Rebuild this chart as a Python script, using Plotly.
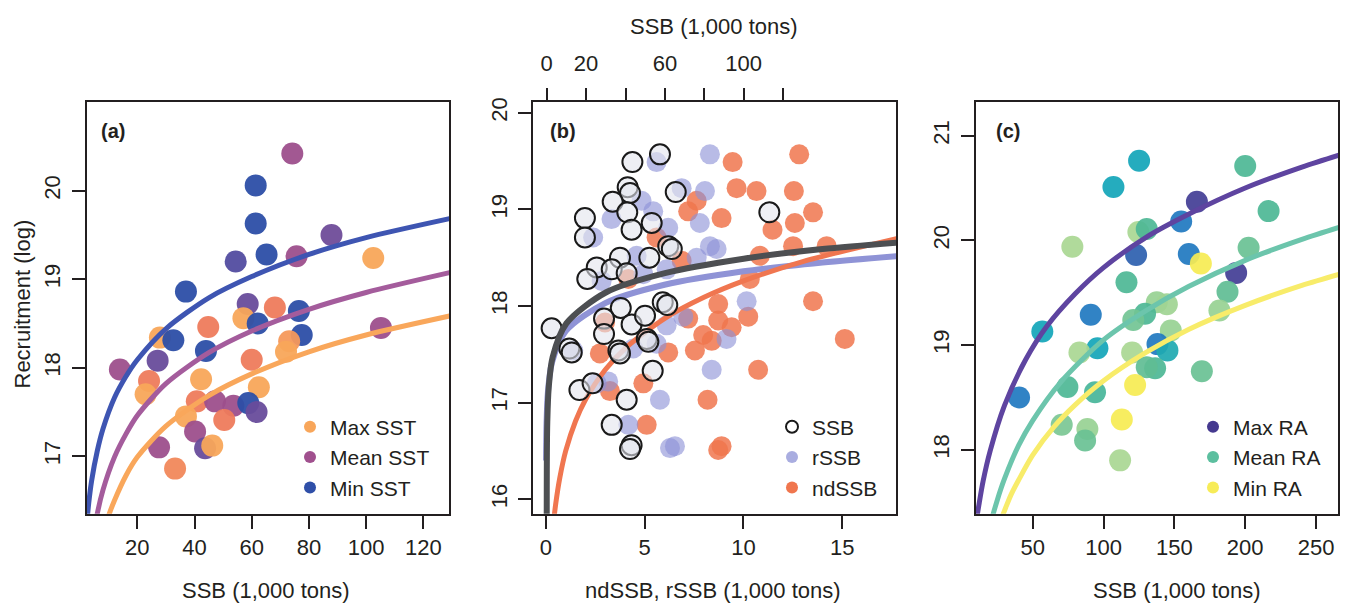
import plotly.graph_objects as go

FONT = "Liberation Sans, Arial, Helvetica, sans-serif"
TXT = "#231f20"
W, H = 1349, 604

# ---------------- (a) recruitment vs SSB, coloured by SST ----------------
ssb_a = [74.2, 61.4, 61.4, 87.9, 54.4, 65.2, 75.7, 102.5, 37.0, 58.6, 68.1,
         76.5, 77.5, 57.1, 62.1, 44.8, 73.1, 72.0, 105.2, 27.9, 32.6, 27.1,
         44.0, 60.0, 13.9, 24.1, 22.9, 42.3, 62.5, 40.8, 47.2, 53.6, 58.8,
         61.7, 37.0, 50.4, 40.2, 27.6, 43.7, 46.2, 33.2]
rec_a = [20.42, 20.06, 19.63, 19.50, 19.20, 19.28, 19.26, 19.24, 18.86, 18.72,
         18.68, 18.64, 18.37, 18.56, 18.50, 18.46, 18.30, 18.18, 18.45, 18.34,
         18.31, 18.08, 18.19, 18.09, 17.98, 17.85, 17.70, 17.87, 17.78, 17.62,
         17.62, 17.57, 17.60, 17.50, 17.45, 17.41, 17.28, 17.10, 17.09, 17.12,
         16.86]
# 0 = coldest ... 4 = warmest
sst_level_a = [2, 0, 0, 1.3, 0.8, 0, 2, 4, 0, 1.2, 3, 0, 0, 4, 0, 3, 3.7, 4,
               2, 4, 0, 1.2, 0, 3, 2, 3, 4, 4, 4, 3, 2, 2, 0, 1.2, 4, 3, 2,
               2, 1.2, 4, 3.3]

fit_min_sst_x = [2, 3, 4, 6, 8, 12, 16, 20, 30, 45, 60, 80, 100, 130]
fit_min_sst_y = [16.12, 16.47, 16.72, 17.06, 17.31, 17.66, 17.90, 18.09, 18.44,
                 18.79, 19.03, 19.28, 19.47, 19.69]
fit_mean_sst_x = [5, 6, 8, 12, 16, 20, 30, 45, 60, 80, 100, 130]
fit_mean_sst_y = [16.15, 16.35, 16.62, 16.99, 17.25, 17.46, 17.82, 18.17,
                  18.415, 18.66, 18.85, 19.08]
fit_max_sst_x = [9, 10, 12, 16, 20, 30, 45, 60, 80, 100, 130]
fit_max_sst_y = [16.20, 16.33, 16.50, 16.78, 16.99, 17.34, 17.685, 17.93,
                 18.18, 18.37, 18.59]

sst_names = ["Max SST", "Mean SST", "Min SST"]
sst_colors = ["#f8a65a", "#a0508e", "#2f4fa8"]
sst_line_colors = ["#f9a75b", "#a45c9c", "#3e55b2"]
sst_scale = [[0.0, "#2c4ea6"], [0.25, "#5b4b9f"], [0.5, "#9d4f8c"],
             [0.75, "#ee7b5c"], [1.0, "#f8a65a"]]

# ---------------- (b) recruitment vs SSB / rSSB / ndSSB ----------------
ssb_b = [57.5, 43.5, 41.1, 42.3, 65.5, 33.5, 40.9, 19.4, 53.3, 43.1, 113.0,
         19.4, 61.7, 63.5, 52.1, 37.2, 25.4, 33.0, 40.6, 20.6, 37.6, 29.1,
         43.1, 49.9, 58.9, 61.2, 2.5, 29.1, 50.8, 51.6, 11.5, 12.7, 36.4,
         37.2, 53.8, 16.6, 23.3, 40.6, 33.0, 43.1, 42.3]
rec_ssb_b = [19.57, 19.49, 19.23, 19.17, 19.18, 19.08, 18.97, 18.91, 18.86,
             18.79, 18.97, 18.71, 18.62, 18.59, 18.50, 18.50, 18.40, 18.38,
             18.34, 18.28, 17.98, 17.87, 17.81, 17.90, 18.04, 18.01, 17.77,
             17.71, 17.66, 17.63, 17.56, 17.52, 17.54, 17.51, 17.33, 17.13,
             17.20, 17.03, 16.77, 16.56, 16.52]

rssb_b = [8.30, 5.60, 6.87, 8.05, 4.84, 5.43, 3.32, 7.79, 6.19, 2.39, 8.30,
          8.64, 7.63, 4.59, 6.11, 2.82, 4.93, 10.16, 6.95, 6.11, 9.14, 5.60,
          4.42, 1.38, 8.39, 2.57, 3.15, 5.77, 4.17, 6.28, 6.53]
rec_rssb_b = [19.57, 19.49, 19.22, 19.19, 19.09, 18.98, 18.90, 18.86, 18.81,
              18.71, 18.62, 18.59, 18.50, 18.52, 18.38, 18.26, 18.33, 18.05,
              17.89, 17.80, 17.66, 17.61, 17.56, 17.54, 17.34, 17.20, 17.22,
              17.03, 16.77, 16.53, 16.55]

ndssb_b = [12.82, 9.45, 9.65, 10.66, 12.55, 7.63, 7.20, 8.89, 13.52, 12.60,
           11.47, 5.60, 12.51, 14.21, 10.83, 6.87, 10.32, 13.52, 8.72, 10.24,
           7.20, 8.72, 9.40, 7.96, 8.39, 15.13, 7.54, 6.19, 2.73, 10.74, 4.93,
           3.24, 8.18, 5.10, 8.89, 8.72, 4.17, 2.99]
rec_ndssb_b = [19.57, 19.49, 19.22, 19.19, 19.19, 19.09, 18.98, 18.91, 18.97,
               18.86, 18.79, 18.71, 18.62, 18.62, 18.52, 18.47, 18.28, 18.05,
               18.02, 17.89, 17.87, 17.85, 17.78, 17.70, 17.64, 17.66, 17.54,
               17.52, 17.51, 17.34, 17.20, 17.12, 17.03, 16.77, 16.55, 16.51,
               18.28, 17.83]

fit_ssb_x = [0.01, 0.03, 0.1, 0.3, 1, 3, 10, 30, 60, 100, 140, 180]
fit_ssb_y = [15.82, 16.13, 16.48, 16.80, 17.15, 17.47, 17.82, 18.14, 18.34,
             18.49, 18.59, 18.66]
fit_rssb_x = [0.007, 0.01, 0.03, 0.1, 0.3, 1, 3, 6, 10, 14, 18]
fit_rssb_y = [16.40, 16.49, 16.79, 17.11, 17.41, 17.74, 18.03, 18.22, 18.36,
              18.45, 18.52]
fit_ndssb_x = [0.3, 0.4, 0.5, 0.7, 1, 1.5, 2, 3, 4, 6, 8, 10, 13, 18]
fit_ndssb_y = [15.57, 15.79, 15.96, 16.22, 16.50, 16.81, 17.03, 17.34, 17.56,
               17.87, 18.09, 18.26, 18.46, 18.71]

# ---------------- (c) recruitment vs SSB, coloured by RA ----------------
ssb_c = [125.1, 107.0, 200.0, 216.5, 165.9, 154.8, 124.6, 130.5, 78.0, 123.0,
         160.2, 168.7, 202.4, 193.6, 116.2, 187.5, 181.8, 137.6, 144.7, 129.3,
         121.0, 91.0, 56.8, 147.5, 95.7, 83.0, 120.2, 138.1, 145.1, 136.4,
         130.5, 169.4, 40.4, 74.5, 94.0, 122.3, 70.5, 88.6, 87.0, 112.9, 111.7]
rec_c = [20.76, 20.51, 20.71, 20.28, 20.37, 20.18, 20.08, 20.11, 19.94, 19.86,
         19.87, 19.78, 19.93, 19.69, 19.60, 19.51, 19.33, 19.41, 19.39, 19.30,
         19.24, 19.29, 19.13, 19.14, 18.97, 18.93, 18.93, 19.01, 18.95, 18.78,
         18.79, 18.75, 18.50, 18.60, 18.55, 18.62, 18.24, 18.20, 18.09, 18.29,
         17.90]
# 0 = highest RA ... 5 = lowest RA
ra_level_c = [2, 2, 3, 3, 0, 1, 4, 3, 4, 0.6, 1, 5, 3.3, 0, 3, 3.2, 3.8, 3.8,
              3.9, 3, 3.4, 1, 2, 3.8, 2, 4, 4, 1, 2.2, 3, 3.2, 3.3, 1, 3, 2.9,
              5, 3.5, 3.8, 3.3, 5, 4]

fit_max_ra_x = [10, 12, 15, 20, 30, 45, 60, 80, 100, 130, 160, 200, 240, 270]
fit_max_ra_y = [17.30, 17.47, 17.70, 17.99, 18.42, 18.86, 19.18, 19.49, 19.74,
                20.03, 20.25, 20.50, 20.70, 20.83]
fit_mean_ra_x = [18, 20, 25, 30, 40, 50, 70, 100, 130, 160, 200, 240, 270]
fit_mean_ra_y = [17.16, 17.28, 17.52, 17.72, 18.04, 18.28, 18.65, 19.05,
                 19.33, 19.56, 19.81, 20.01, 20.14]
fit_min_ra_x = [28, 31, 35, 40, 50, 65, 80, 100, 130, 160, 200, 240, 270]
fit_min_ra_y = [17.345, 17.45, 17.58, 17.71, 17.95, 18.22, 18.43, 18.66,
                18.93, 19.15, 19.38, 19.57, 19.69]

ra_names = ["Max RA", "Mean RA", "Min RA"]
ra_colors = ["#45398f", "#5cbf9f", "#f7ec58"]
ra_line_colors = ["#5e44a0", "#6cc5ac", "#f8ec6a"]
ra_scale = [[0.0, "#423d95"], [0.2, "#1f78c0"], [0.4, "#12a5b8"],
            [0.6, "#4db795"], [0.8, "#a9d792"], [1.0, "#f6eb53"]]

# ---------------- figure ----------------
fig = go.Figure()

# (a) points and fitted curves
fig.add_trace(go.Scatter(
    x=ssb_a, y=rec_a, mode="markers", xaxis="x", yaxis="y", showlegend=False,
    marker=dict(size=22, color=sst_level_a, colorscale=sst_scale, cmin=0,
                cmax=4, opacity=0.95, line=dict(width=0))))
for xs, ys, col in [(fit_max_sst_x, fit_max_sst_y, sst_line_colors[0]),
                    (fit_mean_sst_x, fit_mean_sst_y, sst_line_colors[1]),
                    (fit_min_sst_x, fit_min_sst_y, sst_line_colors[2])]:
    fig.add_trace(go.Scatter(x=xs, y=ys, mode="lines", xaxis="x", yaxis="y",
                             showlegend=False,
                             line=dict(color=col, width=5, shape="spline",
                                       smoothing=0.8)))
for name, col in zip(sst_names, sst_colors):
    fig.add_trace(go.Scatter(x=[None], y=[None], mode="markers", name=name,
                             xaxis="x", yaxis="y", legend="legend",
                             marker=dict(size=12, color=col)))

# (b) points and fitted curves
fig.add_trace(go.Scatter(
    x=ndssb_b, y=rec_ndssb_b, mode="markers", xaxis="x2", yaxis="y2",
    showlegend=False,
    marker=dict(size=20, color="rgba(240,118,78,0.85)", line=dict(width=0))))
fig.add_trace(go.Scatter(
    x=rssb_b, y=rec_rssb_b, mode="markers", xaxis="x2", yaxis="y2",
    showlegend=False,
    marker=dict(size=20, color="rgba(140,146,214,0.62)", line=dict(width=0))))
fig.add_trace(go.Scatter(
    x=ssb_b, y=rec_ssb_b, mode="markers", xaxis="x4", yaxis="y2",
    showlegend=False,
    marker=dict(size=20, color="rgba(226,229,236,0.6)",
                line=dict(width=2, color="#1a1a1a"))))
fig.add_trace(go.Scatter(x=fit_rssb_x, y=fit_rssb_y, mode="lines",
                         xaxis="x2", yaxis="y2", showlegend=False,
                         line=dict(color="#8f93d6", width=6, shape="spline",
                                   smoothing=0.8)))
fig.add_trace(go.Scatter(x=fit_ssb_x, y=fit_ssb_y, mode="lines",
                         xaxis="x4", yaxis="y2", showlegend=False,
                         line=dict(color="#4d4f52", width=6, shape="spline",
                                   smoothing=0.8)))
fig.add_trace(go.Scatter(x=fit_ndssb_x, y=fit_ndssb_y, mode="lines",
                         xaxis="x2", yaxis="y2", showlegend=False,
                         line=dict(color="#f07650", width=5, shape="spline",
                                   smoothing=0.8)))
fig.add_trace(go.Scatter(x=[None], y=[None], mode="markers", name="SSB",
                         xaxis="x2", yaxis="y2", legend="legend2",
                         marker=dict(size=12, color="white",
                                     line=dict(width=2, color="#1a1a1a"))))
fig.add_trace(go.Scatter(x=[None], y=[None], mode="markers", name="rSSB",
                         xaxis="x2", yaxis="y2", legend="legend2",
                         marker=dict(size=12, color="rgba(140,146,214,0.75)")))
fig.add_trace(go.Scatter(x=[None], y=[None], mode="markers", name="ndSSB",
                         xaxis="x2", yaxis="y2", legend="legend2",
                         marker=dict(size=12, color="#f0764e")))

# (c) points and fitted curves
fig.add_trace(go.Scatter(
    x=ssb_c, y=rec_c, mode="markers", xaxis="x3", yaxis="y3", showlegend=False,
    marker=dict(size=22, color=ra_level_c, colorscale=ra_scale, cmin=0,
                cmax=5, opacity=0.92, line=dict(width=0))))
for xs, ys, col in [(fit_max_ra_x, fit_max_ra_y, ra_line_colors[0]),
                    (fit_mean_ra_x, fit_mean_ra_y, ra_line_colors[1]),
                    (fit_min_ra_x, fit_min_ra_y, ra_line_colors[2])]:
    fig.add_trace(go.Scatter(x=xs, y=ys, mode="lines", xaxis="x3", yaxis="y3",
                             showlegend=False,
                             line=dict(color=col, width=5, shape="spline",
                                       smoothing=0.8)))
for name, col in zip(ra_names, ra_colors):
    fig.add_trace(go.Scatter(x=[None], y=[None], mode="markers", name=name,
                             xaxis="x3", yaxis="y3", legend="legend3",
                             marker=dict(size=12, color=col)))

# ---------------- axes ----------------
def px_x(p):
    return p / W


def px_y(p):
    return 1 - p / H


Y_DOM = [px_y(513), px_y(98)]
common = dict(showline=True, linecolor="#231f20", linewidth=2, mirror=True,
              ticks="outside", ticklen=13, tickwidth=2, tickcolor="#231f20",
              showgrid=False, zeroline=False,
              tickfont=dict(family=FONT, size=22, color=TXT))
y_common = dict(common, tickangle=-90, ticklabelstandoff=3)

fig.update_layout(
    xaxis=dict(domain=[px_x(87), px_x(449)], range=[2.4, 129], anchor="y",
               tickvals=[20, 40, 60, 80, 100, 120], **common),
    yaxis=dict(domain=Y_DOM, range=[16.35, 21.0], anchor="x",
               tickvals=[17, 18, 19, 20], **y_common),
    xaxis2=dict(domain=[px_x(533.3), px_x(896)], range=[-0.64, 17.72],
                anchor="y2", tickvals=[0, 5, 10, 15], **common),
    yaxis2=dict(domain=Y_DOM, range=[15.85, 20.11], anchor="x2",
                tickvals=[16, 17, 18, 19, 20], **y_common),
    xaxis4=dict(overlaying="x2", side="top", anchor="y2",
                range=[-6.8, 177.3], showline=False, ticks="outside",
                ticklen=13, tickwidth=2, tickcolor="#231f20", showgrid=False,
                zeroline=False, ticklabelstandoff=8,
                tickvals=[0, 20, 40, 60, 80, 100, 120],
                ticktext=["0", "20", "", "60", "", "100", ""],
                tickfont=dict(family=FONT, size=22, color=TXT)),
    xaxis3=dict(domain=[px_x(976), px_x(1338.3)], range=[10, 265.7],
                anchor="y3", tickvals=[50, 100, 150, 200, 250], **common),
    yaxis3=dict(domain=Y_DOM, range=[17.39, 21.32], anchor="x3",
                tickvals=[18, 19, 20, 21], **y_common),
)

legend_common = dict(bgcolor="rgba(0,0,0,0)", borderwidth=0,
                     xanchor="left", yanchor="top", itemsizing="constant",
                     font=dict(family=FONT, size=21, color=TXT),
                     traceorder="normal")
fig.update_layout(
    legend=dict(x=px_x(290), y=px_y(405), **legend_common),
    legend2=dict(x=px_x(772), y=px_y(405), **legend_common),
    legend3=dict(x=px_x(1193), y=px_y(405), **legend_common),
)

annotations = []
for label, cx in [("(a)", 113), ("(b)", 563), ("(c)", 1008)]:
    annotations.append(dict(text=f"<b>{label}</b>", x=px_x(cx), y=px_y(127),
                            xref="paper", yref="paper", showarrow=False,
                            xanchor="center", yanchor="middle",
                            font=dict(family=FONT, size=20, color=TXT)))
for text, cx, cy in [("SSB (1,000 tons)", 266, 590),
                     ("ndSSB, rSSB (1,000 tons)", 713, 590),
                     ("SSB (1,000 tons)", 1177, 590),
                     ("SSB (1,000 tons)", 714, 22)]:
    annotations.append(dict(text=text, x=px_x(cx), y=px_y(cy), xref="paper",
                            yref="paper", showarrow=False, xanchor="center",
                            yanchor="middle",
                            font=dict(family=FONT, size=22, color=TXT)))
annotations.append(dict(text="Recruitment (log)", x=px_x(22), y=px_y(302),
                        xref="paper", yref="paper", showarrow=False,
                        textangle=-90, xanchor="center", yanchor="middle",
                        font=dict(family=FONT, size=22, color=TXT)))

fig.update_layout(
    width=W, height=H, margin=dict(l=0, r=0, t=0, b=0),
    paper_bgcolor="white", plot_bgcolor="white",
    annotations=annotations,
)

fig.write_html("out.html")
